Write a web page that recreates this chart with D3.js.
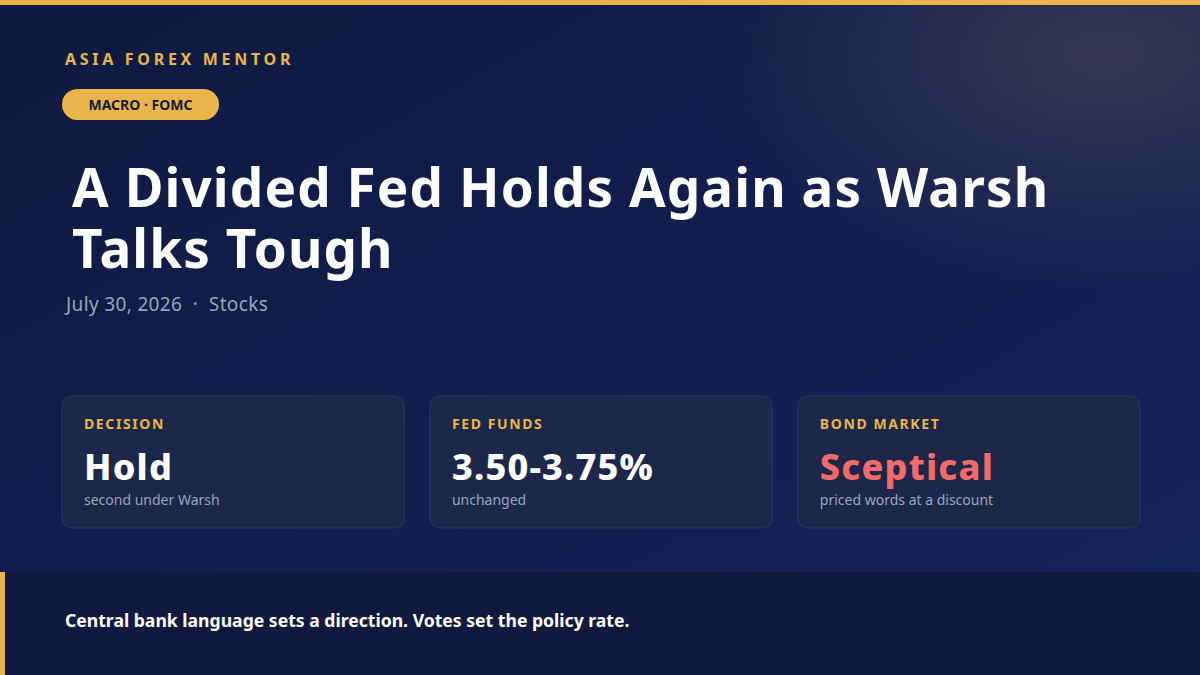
<!DOCTYPE html>
<html><head><meta charset="utf-8">
<script src="https://cdn.jsdelivr.net/npm/d3@7"></script>
<style>body{margin:0;background:#0f1a3c}svg{display:block}</style>
</head><body>
<script>
// content
const brand = 'ASIA FOREX MENTOR';
const tag = 'MACRO · FOMC';
const titleLines = ['A Divided Fed Holds Again as Warsh', 'Talks Tough'];
const meta = 'July 30, 2026  ·  Stocks';
const cardLabels = ['DECISION', 'FED FUNDS', 'BOND MARKET'];
const cardValues = ['Hold', '3.50-3.75%', 'Sceptical'];
const cardNotes = ['second under Warsh', 'unchanged', 'priced words at a discount'];
const footer = 'Central bank language sets a direction. Votes set the policy rate.';

const W = 1200, H = 675;
const gold = '#e9b54b';
const font = '"Noto Sans", sans-serif';

const svg = d3.select('body').append('svg').attr('width', W).attr('height', H);
const defs = svg.append('defs');

const bg = defs.append('linearGradient').attr('id', 'bg')
  .attr('x1', 0).attr('y1', 0).attr('x2', 1).attr('y2', 1);
bg.append('stop').attr('offset', 0).attr('stop-color', '#0e1a3f');
bg.append('stop').attr('offset', 1).attr('stop-color', '#16245e');

const glow = defs.append('radialGradient').attr('id', 'glow')
  .attr('cx', 0.92).attr('cy', 0.08).attr('r', 0.35);
glow.append('stop').attr('offset', 0).attr('stop-color', '#3a3a55').attr('stop-opacity', 0.9);
glow.append('stop').attr('offset', 1).attr('stop-color', '#3a3a55').attr('stop-opacity', 0);

svg.append('rect').attr('width', W).attr('height', H).attr('fill', 'url(#bg)');
svg.append('rect').attr('width', W).attr('height', H).attr('fill', 'url(#glow)');
svg.append('rect').attr('width', W).attr('height', 5).attr('fill', gold);

// header
svg.append('text').attr('x', 65).attr('y', 65).attr('fill', gold)
  .attr('font-family', font).attr('font-weight', 700).attr('font-size', 16)
  .attr('letter-spacing', 3.7).text(brand);

svg.append('rect').attr('x', 62).attr('y', 89).attr('width', 157).attr('height', 31)
  .attr('rx', 15.5).attr('fill', gold);
svg.append('text').attr('x', 140.5).attr('y', 110).attr('text-anchor', 'middle')
  .attr('fill', '#141a33').attr('font-family', font).attr('font-weight', 700)
  .attr('font-size', 14).text(tag);

svg.selectAll('text.title').data(titleLines).join('text').attr('class', 'title')
  .attr('x', 72).attr('y', (d, i) => 207 + i * 61)
  .attr('fill', '#fff').attr('font-family', font).attr('font-weight', 700)
  .attr('font-size', 53).attr('letter-spacing', 1.1).text(d => d);

svg.append('text').attr('x', 66).attr('y', 311).attr('fill', '#9aa3bf')
  .attr('font-family', font).attr('font-size', 19).attr('letter-spacing', 0.35)
  .attr('xml:space', 'preserve').text(meta);

// cards
const x = d3.scaleBand().domain(d3.range(cardLabels.length))
  .range([62, 1140]).paddingInner(0.07);
const cards = svg.selectAll('g.card').data(cardLabels).join('g').attr('class', 'card')
  .attr('transform', (d, i) => `translate(${x(i)},396)`);
cards.append('rect').attr('width', x.bandwidth()).attr('height', 132).attr('rx', 10)
  .attr('fill', '#1d2749').attr('stroke', '#2d3863');
cards.append('text').attr('x', 22).attr('y', 33).attr('fill', gold)
  .attr('font-family', font).attr('font-weight', 700).attr('font-size', 14)
  .attr('letter-spacing', 1.6).text(d => d);
cards.append('text').attr('x', 22).attr('y', 84)
  .attr('fill', (d, i) => i === 2 ? '#f26b6b' : '#fff')
  .attr('font-family', font).attr('font-weight', 800).attr('font-size', 36)
  .attr('letter-spacing', 1.2)
  .text((d, i) => cardValues[i]);
cards.append('text').attr('x', 22).attr('y', 109).attr('fill', '#9aa3bf')
  .attr('font-family', font).attr('font-size', 14).text((d, i) => cardNotes[i]);

// footer band
svg.append('rect').attr('y', 572).attr('width', W).attr('height', H - 572).attr('fill', '#111a3e');
svg.append('rect').attr('y', 572).attr('width', 5).attr('height', H - 572).attr('fill', gold);
svg.append('text').attr('x', 65).attr('y', 627).attr('fill', '#fff')
  .attr('font-family', font).attr('font-weight', 700).attr('font-size', 17.6).text(footer);
</script>
</body></html>
